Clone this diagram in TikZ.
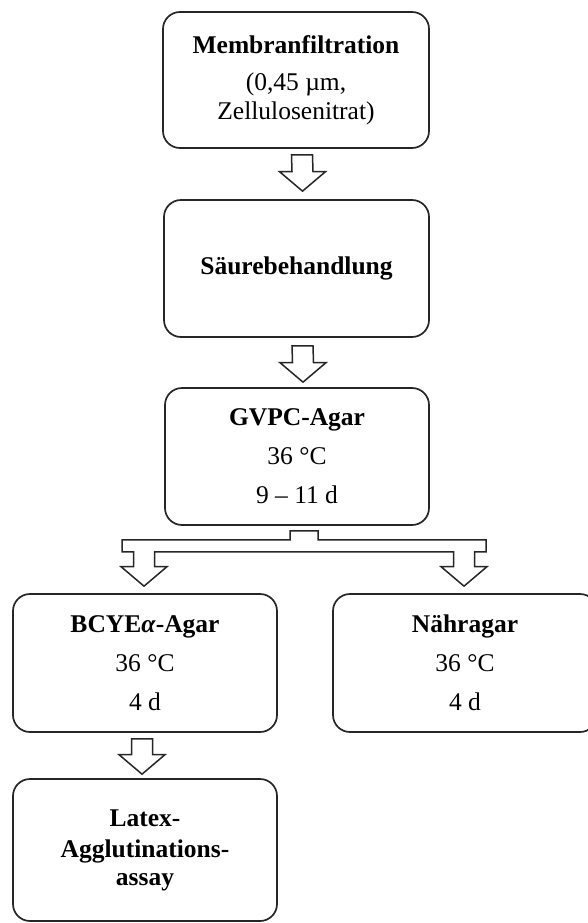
\documentclass[tikz,border=0pt]{standalone}
\usepackage{fontspec}
\setmainfont{Liberation Serif}
\usetikzlibrary{calc}

% outlined block arrow from a start point (top of shaft) down to a tip
\newcommand\flowarrow[2]{%
  \draw[blockarrow] ($(#1)+(-10.5,0)$) -- ($(#1)+(10.5,0)$)
    -- ($(#2)+(10.5,-19.5)$) -- ($(#2)+(23,-19.5)$) -- (#2)
    -- ($(#2)+(-23,-19.5)$) -- ($(#2)+(-10.5,-19.5)$) -- cycle;}

\begin{document}
\begin{tikzpicture}[x=1pt,y=-1pt,
  stage/.style={draw=black!85, line width=1.7pt, rounded corners=17pt,
    minimum width=264pt, minimum height=137pt, align=center, inner sep=0pt,
    font=\fontsize{25.5}{39}\selectfont},
  blockarrow/.style={draw=black!85, line width=1.5pt, fill=white, line join=miter}]
\useasboundingbox (0,0) rectangle (587,923);

% process stages
\node[stage, minimum width=266pt, minimum height=136pt, font=\fontsize{25.5}{29}\selectfont]
  (mem) at (296,80) {\textbf{Membranfiltration}\\[8pt](0,45 µm,\\Zellulosenitrat)};
\node[stage, minimum width=265pt] (sae) at (296.5,268.5) {\textbf{Säurebehandlung}};
\node[stage] (gvpc) at (297,456.5) {\textbf{GVPC-Agar}\\36 °C\\9 – 11 d};
\node[stage, minimum height=138pt] (bcye) at (145,663) {\textbf{BCYE\textit{α}-Agar}\\36 °C\\4 d};
\node[stage, minimum height=138pt] (naehr) at (465,663) {\textbf{Nähragar}\\36 °C\\4 d};
\node[stage, minimum height=142pt, font=\fontsize{25.5}{28}\selectfont]
  (latex) at (145,850) {\textbf{Latex-}\\[3pt]\textbf{Agglutinations-}\\\textbf{assay}};

% straight block arrows
\coordinate (a1s) at ($(mem.south)+(6,6)$);
\coordinate (a1t) at ($(sae.north)+(6,-8)$);
\coordinate (a2s) at ($(sae.south)+(6,8)$);
\coordinate (a2t) at ($(gvpc.north)+(6,-5)$);
\coordinate (a4s) at ($(bcye.south)+(-3,6)$);
\coordinate (a4t) at ($(latex.north)+(-3,-4)$);
\flowarrow{a1s}{a1t}
\flowarrow{a2s}{a2t}
\flowarrow{a4s}{a4t}

% branching block arrow
\coordinate (bs) at ($(gvpc.south)+(7,5)$);
\coordinate (bl) at ($(bcye.north)+(-1,-7)$);
\coordinate (br) at ($(naehr.north)+(-1,-7)$);
\draw[blockarrow]
  ($(bs)+(-14,0)$) -- ($(bs)+(14,0)$) -- ($(bs)+(14,9)$)
  -- ($(br|-bs)+(22,9)$) -- ($(br|-bs)+(22,21)$) -- ($(br|-bs)+(10.5,21)$)
  -- ($(br)+(10.5,-19.5)$) -- ($(br)+(23,-19.5)$) -- (br)
  -- ($(br)+(-23,-19.5)$) -- ($(br)+(-10.5,-19.5)$) -- ($(br|-bs)+(-10.5,21)$)
  -- ($(bl|-bs)+(10.5,21)$) -- ($(bl)+(10.5,-19.5)$) -- ($(bl)+(23,-19.5)$)
  -- (bl) -- ($(bl)+(-23,-19.5)$) -- ($(bl)+(-10.5,-19.5)$)
  -- ($(bl|-bs)+(-10.5,21)$) -- ($(bl|-bs)+(-22,21)$) -- ($(bl|-bs)+(-22,9)$)
  -- ($(bs)+(-14,9)$) -- cycle;
\end{tikzpicture}
\end{document}
